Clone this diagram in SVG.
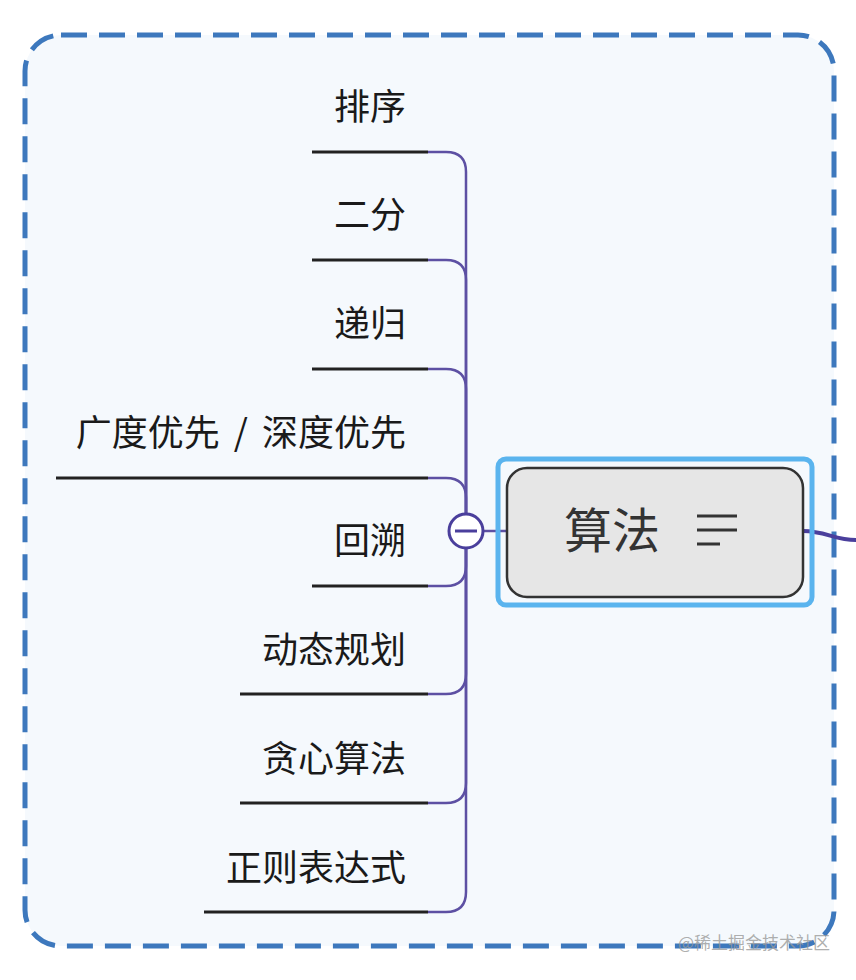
<svg xmlns="http://www.w3.org/2000/svg" width="856" height="980" viewBox="0 0 856 980">
<style>
.lbl{font-family:"Noto Sans CJK SC","Noto Sans",sans-serif;font-size:36px;fill:#1a1a1a;text-anchor:end}
.ul{stroke:#222;stroke-width:3;fill:none}
.br{stroke:#5d50a3;stroke-width:2.5;fill:none}
</style>
<rect x="0" y="0" width="856" height="980" fill="#ffffff"/>
<rect id="boundary" x="25" y="35" width="809" height="911" rx="36" fill="#f5f9fd" stroke="#3d78bd" stroke-width="5" stroke-dasharray="26 12"/>
<g id="connectors">
<path class="br" d="M428 152 H446 Q466 152 466 172 V531"/>
<path class="br" d="M428 260 H446 Q466 260 466 280 V531"/>
<path class="br" d="M428 369 H446 Q466 369 466 389 V531"/>
<path class="br" d="M428 478 H446 Q466 478 466 498 V531"/>
<path class="br" d="M428 586 H446 Q466 586 466 566 V531"/>
<path class="br" d="M428 694 H446 Q466 694 466 674 V531"/>
<path class="br" d="M428 803 H446 Q466 803 466 783 V531"/>
<path class="br" d="M428 912 H446 Q466 912 466 892 V531"/>
<path class="br" d="M483 531 H507"/>
<path d="M803 531 C 825 531 835 540 856 540" stroke="#4a3f9c" stroke-width="4" fill="none"/>
</g>
<g id="n1"><text class="lbl" x="406" y="120">排序</text><path class="ul" d="M312 152 H428"/></g>
<g id="n2"><text class="lbl" x="406" y="228">二分</text><path class="ul" d="M312 260 H428"/></g>
<g id="n3"><text class="lbl" x="406" y="337">递归</text><path class="ul" d="M312 369 H428"/></g>
<g id="n4"><text class="lbl" x="406" y="446">广度优先<tspan dx="6"> / </tspan><tspan dx="6">深度优先</tspan></text><path class="ul" d="M56 478 H428"/></g>
<g id="n5"><text class="lbl" x="406" y="554">回溯</text><path class="ul" d="M312 586 H428"/></g>
<g id="n6"><text class="lbl" x="406" y="663">动态规划</text><path class="ul" d="M240 694 H428"/></g>
<g id="n7"><text class="lbl" x="406" y="772">贪心算法</text><path class="ul" d="M240 803 H428"/></g>
<g id="n8"><text class="lbl" x="406" y="881">正则表达式</text><path class="ul" d="M204 912 H428"/></g>
<g id="collapse">
<circle cx="466" cy="531" r="17" fill="#ffffff" stroke="#4a3f9c" stroke-width="3"/>
<path d="M455 531 H477" stroke="#4a3f9c" stroke-width="3"/>
</g>
<g id="root">
<rect x="498" y="459" width="314" height="146" rx="8" fill="none" stroke="#5ab4ee" stroke-width="5"/>
<rect x="507" y="468" width="296" height="129" rx="20" fill="#e6e6e6" stroke="#333" stroke-width="2.5"/>
<text x="612" y="548" font-family="Noto Sans CJK SC, Noto Sans, sans-serif" font-size="48" fill="#333" text-anchor="middle">算法</text>
<path d="M697 516 H737 M697 530 H737 M697 544 H720" stroke="#333" stroke-width="3"/>
</g>
<text x="830" y="949" font-family="Noto Sans CJK SC, sans-serif" font-size="17" fill="#999" fill-opacity="0.8" text-anchor="end">@稀土掘金技术社区</text>
</svg>
